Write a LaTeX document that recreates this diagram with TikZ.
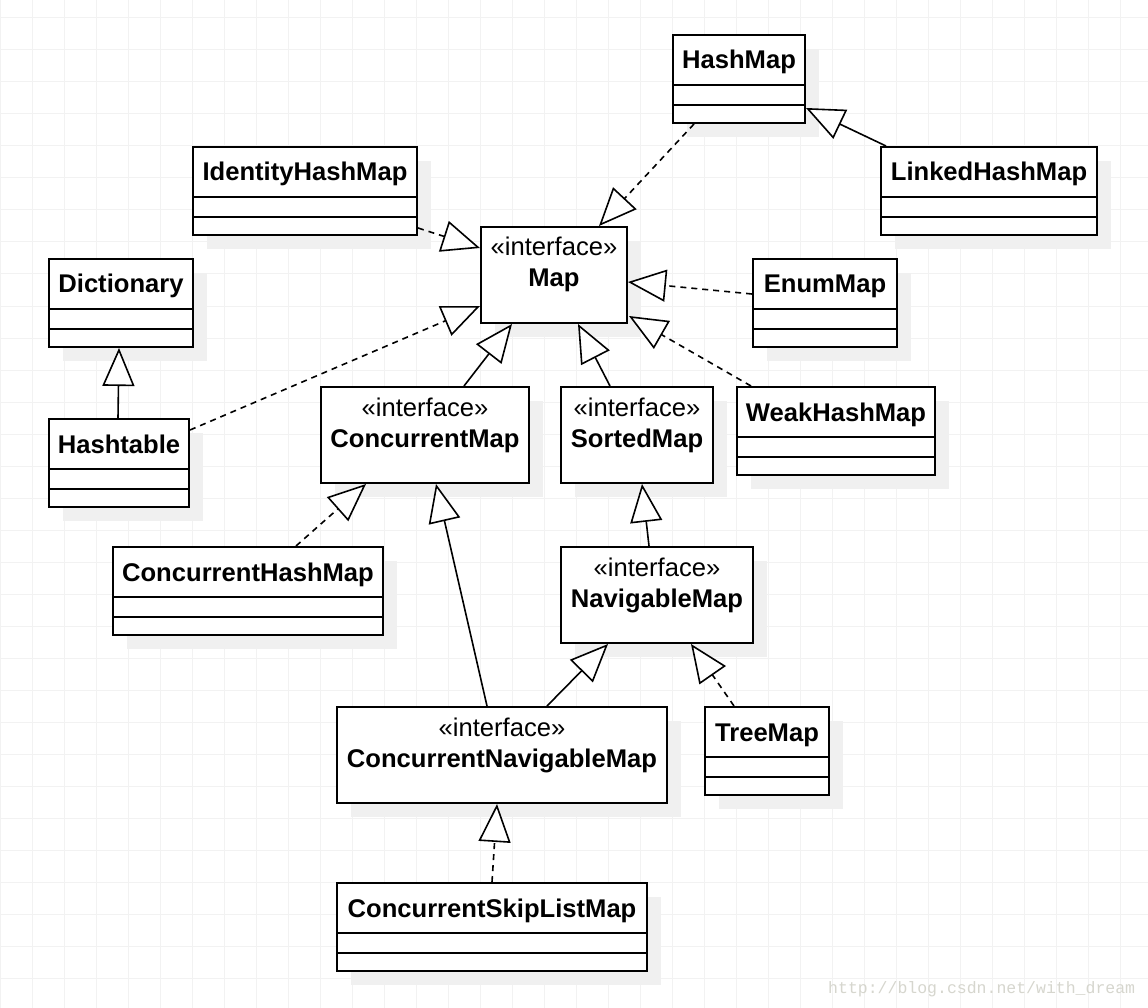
\documentclass[tikz,border=0pt]{standalone}
\usepackage{fontspec}
\setmainfont{Liberation Sans}
\newfontfamily\markfont{Liberation Mono}
\usetikzlibrary{positioning,calc,arrows.meta,shadows}

\definecolor{gridgray}{RGB}{242,242,242}
\definecolor{shadowgray}{RGB}{240,240,240}
\definecolor{markgray}{RGB}{214,214,206}
\newcommand{\umlfont}{\fontsize{25.6}{31}\selectfont}

\tikzset{
  umlbox/.style={draw, line width=2pt, fill=white, anchor=north west,
    inner xsep=0pt, inner ysep=0pt,
    drop shadow={shadow xshift=14pt, shadow yshift=-14pt, fill=shadowgray, opacity=1}},
  classbox/.style={umlbox, font=\umlfont\bfseries, text height=34pt, text depth=54pt,
    path picture={
      \draw[line width=2pt] ($(path picture bounding box.north west)+(0,50)$) -- ($(path picture bounding box.north east)+(0,50)$);
      \draw[line width=2pt] ($(path picture bounding box.north west)+(0,70)$) -- ($(path picture bounding box.north east)+(0,70)$);
    }},
  ifacebox/.style={umlbox, font=\umlfont, align=center, text height=60pt, text depth=36pt},
  realize/.style={line width=1.6pt, dash pattern=on 6pt off 5pt,
    -{Triangle[length=38pt,width=32pt,fill=white]}},
  generalize/.style={line width=1.6pt, -{Triangle[length=38pt,width=32pt,fill=white]}},
  gridline/.style={draw=gridgray, line width=1pt},
}

\begin{document}
\begin{tikzpicture}[x=1pt,y=-1pt]
\useasboundingbox (0,0) rectangle (1148,1008);
\fill[white] (0,0) rectangle (1148,1008);
% background grid
\foreach \gx in {0,32,...,1147} \draw[gridline] (\gx,0) -- (\gx,1008);
\foreach \gy in {18,50,...,1007} \draw[gridline] (0,\gy) -- (1148,\gy);

% classes
\node[classbox, minimum width=132] (hashmap) at (672,34) {HashMap};
\node[classbox, minimum width=224] (identity) at (192,146) {IdentityHashMap};
\node[classbox, minimum width=216] (linked) at (880,146) {LinkedHashMap};
\node[classbox, minimum width=144] (dictionary) at (48,258) {Dictionary};
\node[classbox, minimum width=144] (enummap) at (752,258) {EnumMap};
\node[classbox, minimum width=198] (weak) at (736,386) {WeakHashMap};
\node[classbox, minimum width=140] (hashtable) at (48,418) {Hashtable};
\node[classbox, minimum width=270] (chm) at (112,546) {ConcurrentHashMap};
\node[classbox, minimum width=124] (treemap) at (704,706) {TreeMap};
\node[classbox, minimum width=310] (skiplist) at (336,882) {ConcurrentSkipListMap};

% interfaces
\node[ifacebox, minimum width=146] (map) at (480,226) {«interface»\\\textbf{Map}};
\node[ifacebox, minimum width=208] (cmap) at (320,386) {«interface»\\\textbf{ConcurrentMap}};
\node[ifacebox, minimum width=152] (sorted) at (560,386) {«interface»\\\textbf{SortedMap}};
\node[ifacebox, minimum width=192] (navmap) at (560,546) {«interface»\\\textbf{NavigableMap}};
\node[ifacebox, minimum width=330] (cnavmap) at (336,706) {«interface»\\\textbf{ConcurrentNavigableMap}};

% implements
\draw[realize] ($(hashmap.south west)+(22,0)$) -- ($(map.north west)+(119,0)$);
\draw[realize] ($(identity.north east)+(0,82)$) -- ($(map.north west)+(0,22)$);
\draw[realize] ($(enummap.north west)+(0,36)$) -- ($(map.north east)+(0,56)$);
\draw[realize] ($(weak.north west)+(15,0)$) -- ($(map.north east)+(1,90)$);
\draw[realize] ($(hashtable.north east)+(0,12)$) -- ($(map.north west)+(0,80)$);
\draw[realize] ($(chm.north west)+(184,0)$) -- ($(cmap.south west)+(46,0)$);
\draw[realize] ($(treemap.north west)+(30,0)$) -- ($(navmap.south west)+(131,0)$);
\draw[realize] ($(skiplist.north west)+(156,0)$) -- ($(cnavmap.south west)+(161,0)$);

% extends
\draw[generalize] ($(linked.north west)+(6,0)$) -- ($(hashmap.north east)+(0,74)$);
\draw[generalize] ($(hashtable.north west)+(70,0)$) -- ($(dictionary.south west)+(71,0)$);
\draw[generalize] ($(cmap.north west)+(144,0)$) -- ($(map.south west)+(32,0)$);
\draw[generalize] ($(sorted.north west)+(50,0)$) -- ($(map.south west)+(98,0)$);
\draw[generalize] ($(cnavmap.north west)+(151,0)$) -- ($(cmap.south west)+(116,0)$);
\draw[generalize] ($(navmap.north west)+(89,0)$) -- ($(sorted.south west)+(82,0)$);
\draw[generalize] ($(cnavmap.north west)+(211,0)$) -- ($(navmap.south west)+(48,0)$);

\node[font=\markfont\fontsize{16.5}{18}\selectfont, text=markgray, anchor=base west, inner sep=0pt]
  (mark) at (828,993) {http://blog.csdn.net/with\_dream};
\end{tikzpicture}
\end{document}
